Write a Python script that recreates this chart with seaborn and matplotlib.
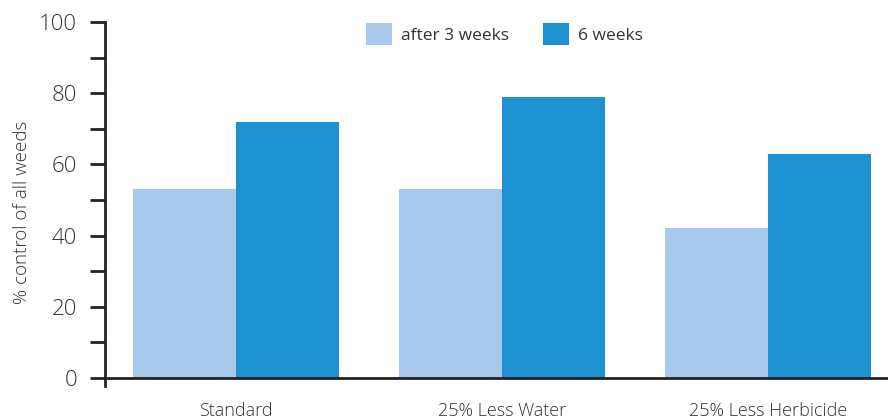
import matplotlib
matplotlib.use("Agg")
import matplotlib.pyplot as plt
import seaborn as sns
import pandas as pd
from matplotlib.ticker import MultipleLocator

treatments = ["Standard", "25% Less Water", "25% Less Herbicide"]
after_3_weeks = [53, 53, 42]
after_6_weeks = [72, 79, 63]
series_names = ["after 3 weeks", "6 weeks"]
colors = ["#A8C9EB", "#1E92D1"]

df = pd.DataFrame({
    "Treatment": treatments * 2,
    "Period": [series_names[0]] * 3 + [series_names[1]] * 3,
    "Control": after_3_weeks + after_6_weeks,
})

sns.set_style("white")
plt.rcParams["font.family"] = ["Open Sans", "DejaVu Sans"]

fig = plt.figure(figsize=(8.88, 4.2), dpi=100)
ax = fig.add_axes([105 / 888, 42 / 420, 1 - 105 / 888, 356 / 420])

sns.barplot(data=df, x="Treatment", y="Control", hue="Period",
            palette=colors, width=0.775, saturation=1, linewidth=0, ax=ax)

ax.set_ylim(0, 100)
ax.set_xlim(-0.492, 2.45)
ax.yaxis.set_major_locator(MultipleLocator(20))
ax.yaxis.set_minor_locator(MultipleLocator(10))
ax.tick_params(axis="y", which="both", direction="out", length=11, width=2,
               color="#222222", labelsize=16, labelcolor="#333333", pad=9,
               left=True)
ax.tick_params(axis="x", length=0, labelsize=13, labelcolor="#333333", pad=17)
for lab in ax.get_yticklabels() + ax.get_xticklabels():
    lab.set_fontweight("light")

ax.set_xlabel("")
ax.set_ylabel("% control of all weeds", fontsize=13.5, color="#333333",
              fontweight="light")
ax.yaxis.set_label_coords(-0.095, 0.466)

for side in ["top", "right"]:
    ax.spines[side].set_visible(False)
ax.spines["left"].set_linewidth(2)
ax.spines["left"].set_color("#222222")
ax.spines["left"].set_bounds(-2.3, 100)
ax.spines["bottom"].set_linewidth(2)
ax.spines["bottom"].set_color("#222222")

ax.legend(loc="upper center", bbox_to_anchor=(0.51, 1.04), ncol=2, frameon=False,
          fontsize=12.5, handlelength=1.5, handleheight=1.5, columnspacing=2.0,
          handletextpad=0.5, labelcolor="#333333")

fig.savefig("out.png", dpi=100)
